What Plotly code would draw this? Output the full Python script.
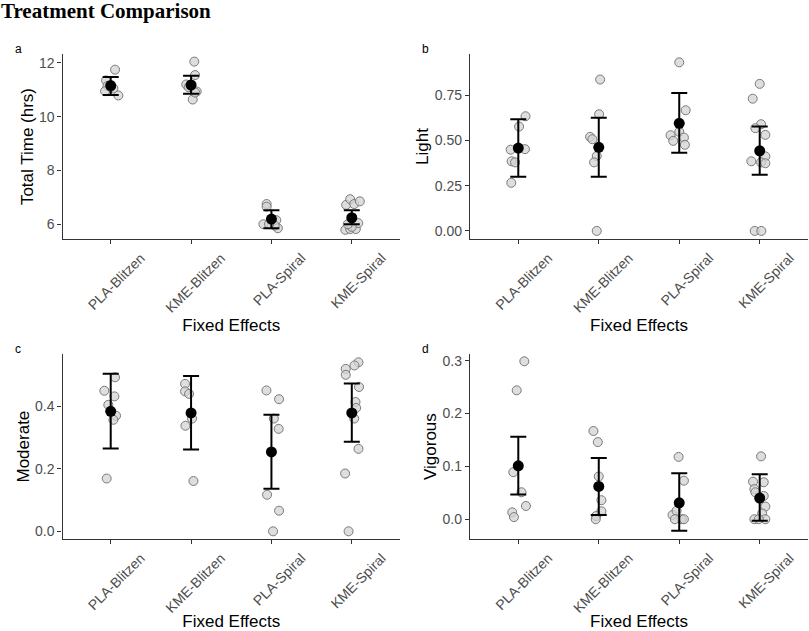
import plotly.graph_objects as go

# categories on the x axis
groups = ["PLA-Blitzen", "KME-Blitzen", "PLA-Spiral", "KME-Spiral"]

# panel a : total time (hrs)
time_pts = [
    [11.75, 11.35, 11.15, 11.05, 10.95, 10.79, 11.1],
    [12.05, 11.55, 11.2, 11.1, 10.94, 10.64, 10.9],
    [6.75, 6.65, 6.15, 6.0, 5.85, 5.95, 6.0],
    [6.72, 6.93, 6.75, 6.85, 5.79, 5.82, 5.82, 6.04, 5.9, 6.0],
]
time_jit = [
    [0.054, -0.058, -0.04, 0.033, -0.07, 0.095, 0.0],
    [0.04, 0.05, -0.06, -0.03, 0.07, 0.02, 0.05],
    [-0.06, -0.06, 0.06, -0.1, 0.08, 0.04, -0.03],
    [-0.07, -0.02, 0.03, 0.1, -0.08, -0.02, 0.05, 0.08, 0.0, -0.05],
]
time_mean = [11.16, 11.18, 6.19, 6.24]
time_lo = [10.81, 10.85, 5.85, 6.0]
time_hi = [11.48, 11.52, 6.52, 6.52]

# panel b : light
light_pts = [
    [0.634, 0.577, 0.449, 0.452, 0.385, 0.379, 0.266],
    [0.837, 0.645, 0.520, 0.507, 0.414, 0.379, 0.0],
    [0.932, 0.667, 0.529, 0.498, 0.548, 0.516, 0.476],
    [0.813, 0.731, 0.590, 0.568, 0.531, 0.385, 0.412, 0.379, 0.374, 0.0, 0.0],
]
light_jit = [
    [0.09, 0.01, -0.095, 0.083, -0.083, -0.04, -0.087],
    [0.017, 0.004, -0.108, -0.08, -0.025, -0.058, -0.025],
    [0.0, 0.08, -0.108, -0.075, 0.0, 0.058, 0.07],
    [0.0, -0.087, 0.017, -0.054, 0.07, -0.104, 0.07, 0.017, 0.07, -0.062, 0.02],
]
light_mean = [0.458, 0.462, 0.595, 0.443]
light_lo = [0.300, 0.300, 0.432, 0.311]
light_hi = [0.617, 0.626, 0.762, 0.577]

# panel c : moderate
mod_pts = [
    [0.493, 0.450, 0.432, 0.405, 0.370, 0.357, 0.169],
    [0.472, 0.448, 0.440, 0.361, 0.338, 0.161],
    [0.451, 0.423, 0.361, 0.328, 0.117, 0.066, 0.0],
    [0.541, 0.531, 0.520, 0.501, 0.462, 0.414, 0.395, 0.361, 0.264, 0.185, 0.0],
]
mod_jit = [
    [0.054, -0.079, 0.046, -0.03, 0.066, 0.033, -0.05],
    [-0.075, -0.075, -0.025, 0.012, -0.07, 0.03],
    [-0.062, 0.095, 0.03, 0.09, -0.054, 0.095, 0.02],
    [0.083, 0.033, -0.075, -0.075, 0.09, 0.046, 0.054, 0.03, 0.083, -0.083, -0.04],
]
mod_mean = [0.384, 0.379, 0.254, 0.379]
mod_lo = [0.265, 0.262, 0.136, 0.287]
mod_hi = [0.504, 0.497, 0.373, 0.473]

# panel d : vigorous
vig_pts = [
    [0.299, 0.244, 0.089, 0.051, 0.025, 0.013, 0.004],
    [0.167, 0.146, 0.081, 0.036, 0.015, 0.006, 0.0],
    [0.118, 0.073, 0.008, 0.016, 0.0, 0.0, 0.0],
    [0.119, 0.071, 0.070, 0.057, 0.051, 0.044, 0.024, 0.011, 0.0, 0.0, 0.0],
]
vig_jit = [
    [0.075, -0.02, -0.062, 0.04, 0.095, -0.075, -0.054],
    [-0.066, -0.012, 0.0, 0.033, 0.033, -0.033, -0.037],
    [-0.008, 0.058, -0.083, -0.033, 0.03, 0.058, -0.054],
    [0.017, -0.083, 0.05, -0.066, -0.054, 0.05, 0.07, 0.03, -0.066, 0.07, -0.012],
]
vig_mean = [0.101, 0.062, 0.031, 0.040]
vig_lo = [0.047, 0.008, -0.022, -0.003]
vig_hi = [0.156, 0.116, 0.087, 0.085]

W, H = 809, 631
SANS = "Liberation Sans, Arial, sans-serif"

fig = go.Figure()


def add_panel(n, pts, jit, mean, lo, hi, ytitle, yrange, ytickvals, yfmt, xdom, ydom, letter):
    xa = "x" if n == 1 else f"x{n}"
    ya = "y" if n == 1 else f"y{n}"

    # raw points, jittered around each group
    xs, ys = [], []
    for i, (vals, offs) in enumerate(zip(pts, jit)):
        for v, o in zip(vals, offs):
            xs.append(i + 1 + o)
            ys.append(v)
    fig.add_trace(go.Scatter(
        x=xs, y=ys, mode="markers", xaxis=xa, yaxis=ya, showlegend=False,
        marker=dict(size=9, color="rgba(211,211,211,0.75)",
                    line=dict(color="#7a7a7a", width=1)),
    ))

    # mean + CI
    fig.add_trace(go.Scatter(
        x=[1, 2, 3, 4], y=mean, mode="markers", xaxis=xa, yaxis=ya, showlegend=False,
        marker=dict(size=11, color="black"),
        error_y=dict(type="data", symmetric=False,
                     array=[h - m for h, m in zip(hi, mean)],
                     arrayminus=[m - l for m, l in zip(mean, lo)],
                     color="black", thickness=2, width=8),
    ))

    axis_common = dict(showline=True, linecolor="#333333", linewidth=1.3,
                       ticks="outside", ticklen=4, tickcolor="#333333",
                       showgrid=False, zeroline=False,
                       tickfont=dict(family=SANS, size=14, color="#4d4d4d"))

    fig.layout[f"xaxis{'' if n == 1 else n}"] = dict(
        axis_common, domain=xdom, anchor=ya, range=[0.4, 4.6],
        tickvals=[1, 2, 3, 4], ticktext=groups, tickangle=-45, ticklabelshift=30,
        title=dict(text="Fixed Effects", font=dict(family=SANS, size=17, color="black"), standoff=3),
    )
    fig.layout[f"yaxis{'' if n == 1 else n}"] = dict(
        axis_common, domain=ydom, anchor=xa, range=yrange,
        tickvals=ytickvals, tickformat=yfmt,
        title=dict(text=ytitle, font=dict(family=SANS, size=17, color="black"), standoff=1),
    )

    fig.add_annotation(text=letter, x=xdom[0] - 50 / W, y=ydom[1] + 5 / H,
                       xref="paper", yref="paper", xanchor="left", yanchor="middle",
                       showarrow=False, font=dict(family=SANS, size=12, color="black"))


top = [1 - 239 / H, 1 - 53 / H]
bot = [1 - 540 / H, 1 - 354 / H]
left = [62.5 / W, 400 / W]
right = [470 / W, 808 / W]

add_panel(1, time_pts, time_jit, time_mean, time_lo, time_hi, "Total Time (hrs)",
          [5.44, 12.34], [6, 8, 10, 12], "d", left, top, "a")
add_panel(2, light_pts, light_jit, light_mean, light_lo, light_hi, "Light",
          [-0.046, 0.979], [0, 0.25, 0.5, 0.75], ".2f", right, top, "b")
add_panel(3, mod_pts, mod_jit, mod_mean, mod_lo, mod_hi, "Moderate",
          [-0.0255, 0.568], [0, 0.2, 0.4], ".1f", left, bot, "c")
add_panel(4, vig_pts, vig_jit, vig_mean, vig_lo, vig_hi, "Vigorous",
          [-0.038, 0.313], [0, 0.1, 0.2, 0.3], ".1f", right, bot, "d")

fig.update_layout(
    width=W, height=H,
    margin=dict(l=0, r=0, t=0, b=0),
    paper_bgcolor="white", plot_bgcolor="white",
    title=dict(text="<b>Treatment Comparison</b>", x=1 / W, xanchor="left", y=1 - 3 / H, yanchor="top",
               font=dict(family="Liberation Serif, Times New Roman, serif", size=21, color="black")),
)

# the page body has a default margin; drop it so the figure sits at the window corner
fig.write_html("out.html", config={"displayModeBar": False},
               post_script="document.body.style.margin='0';")
